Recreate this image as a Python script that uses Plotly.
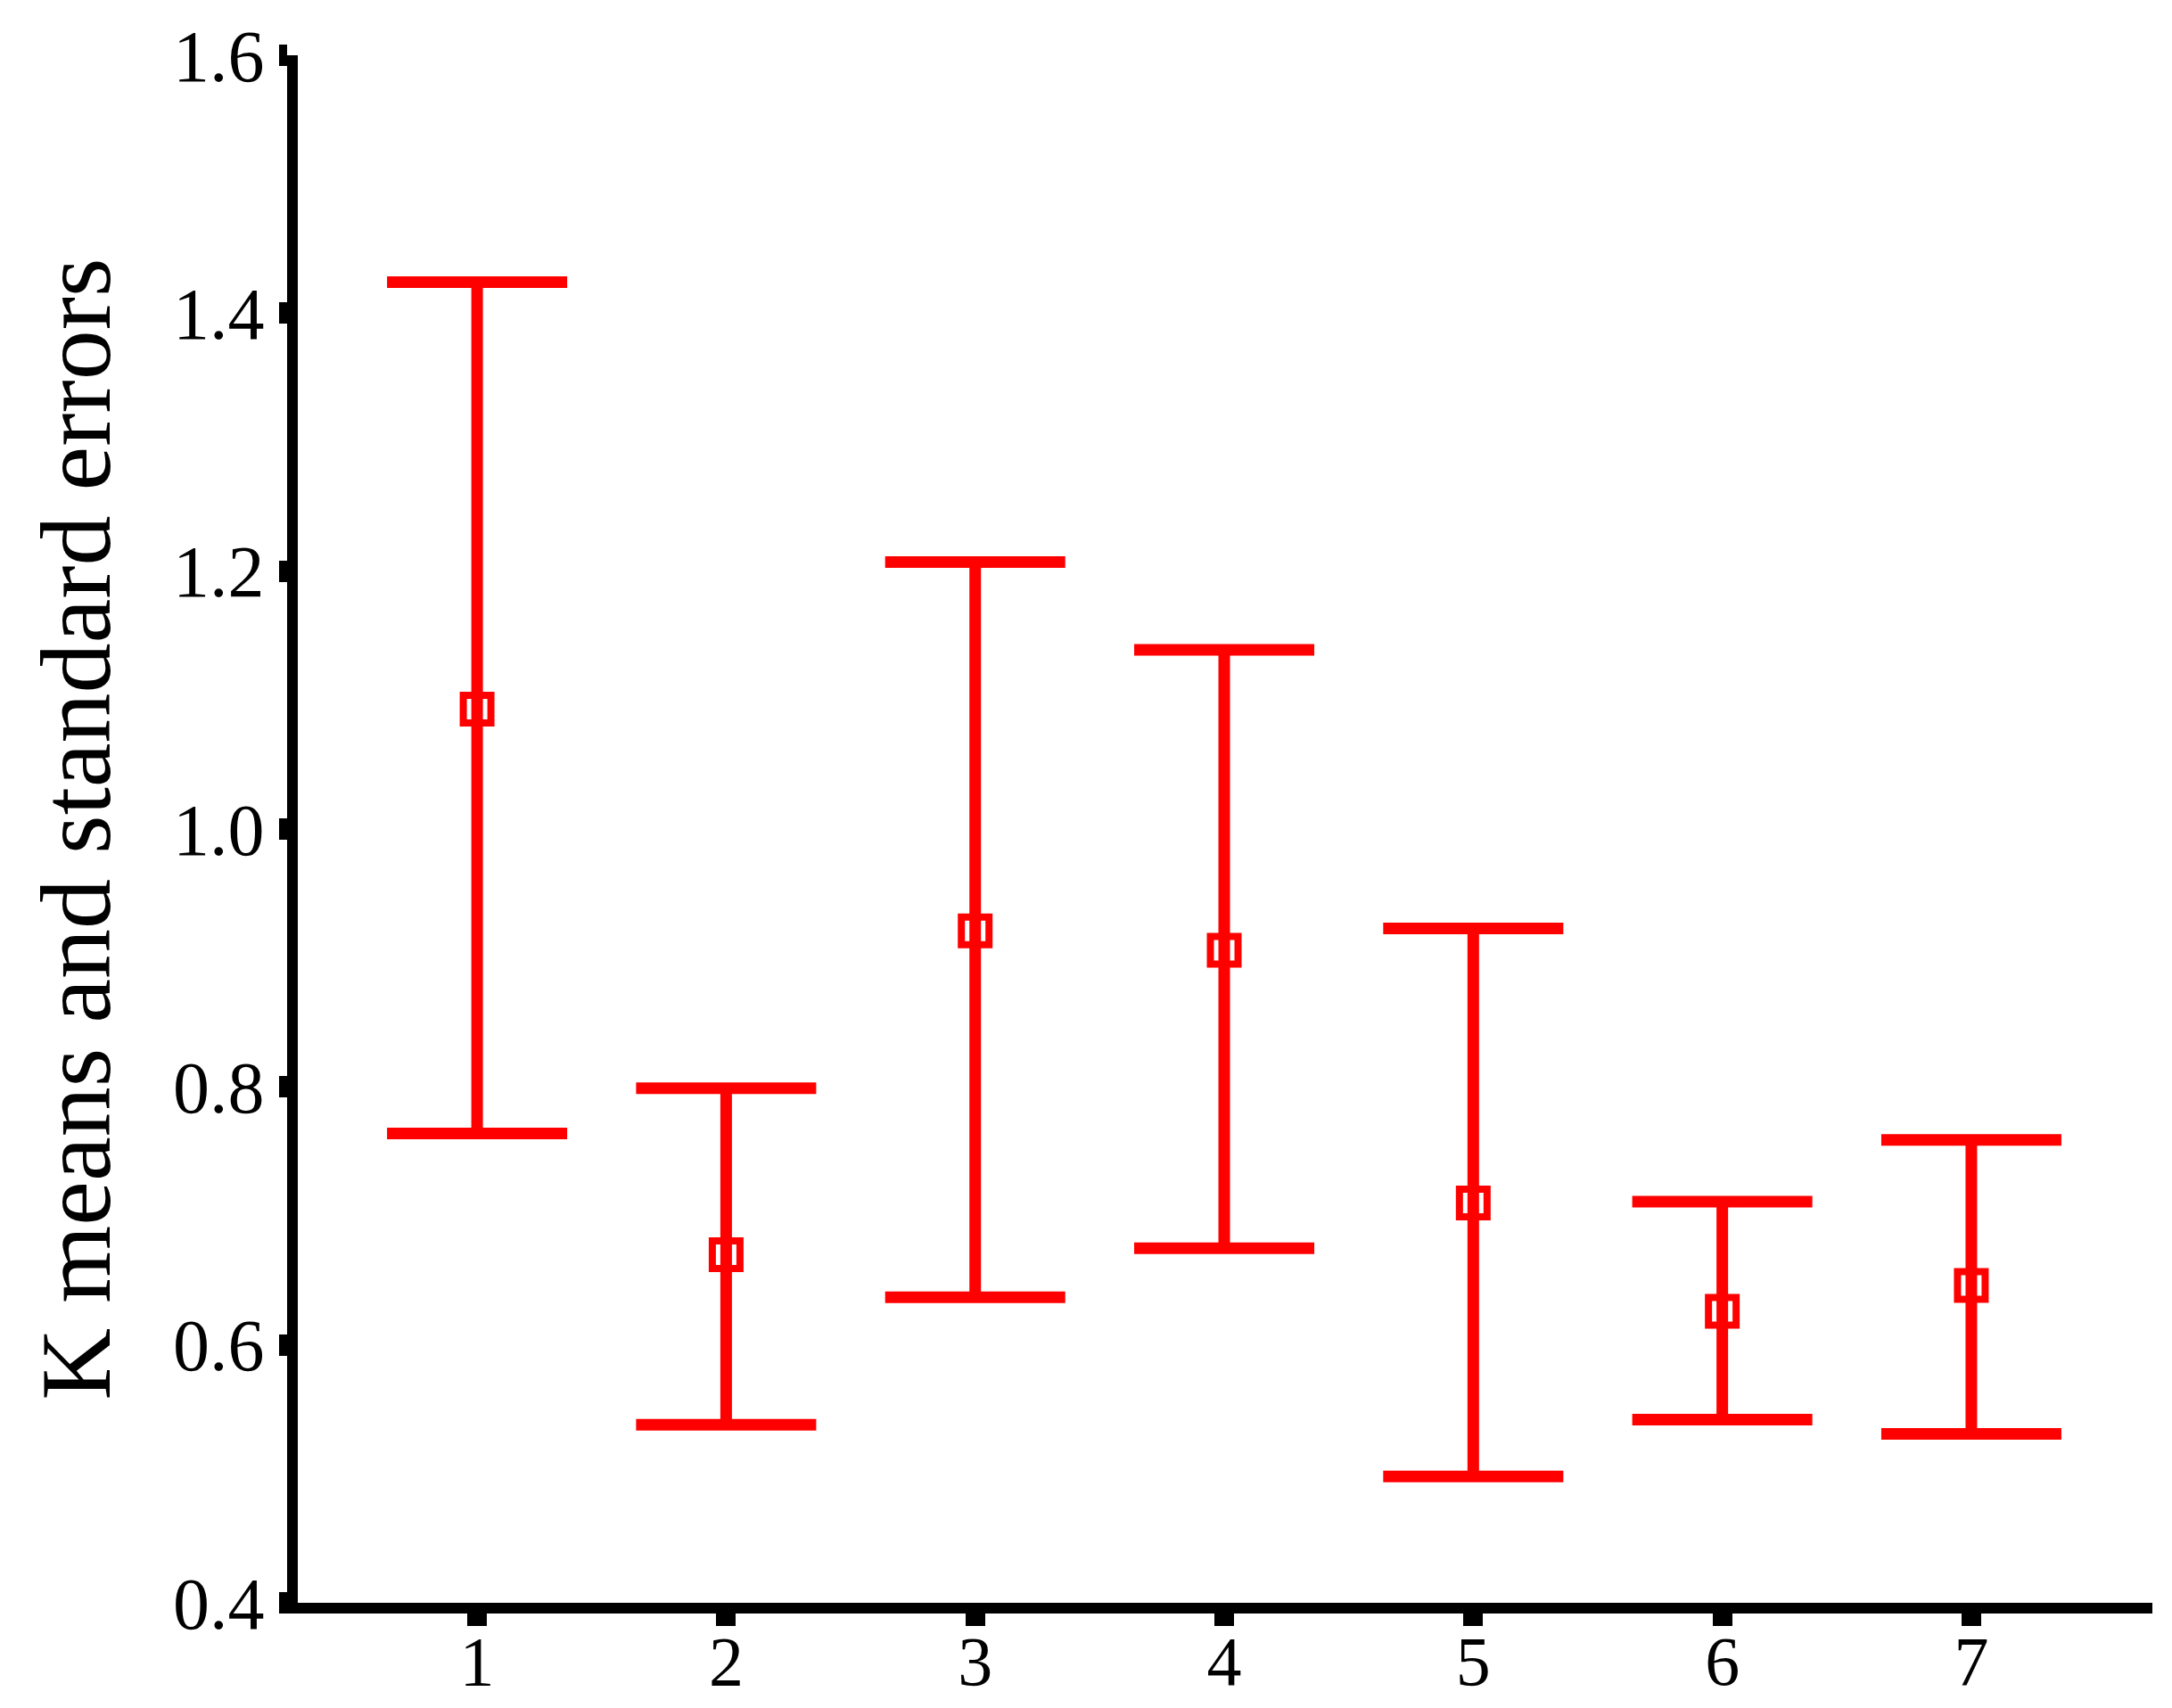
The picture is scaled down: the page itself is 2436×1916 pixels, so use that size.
import plotly.graph_objects as go

groups = [1, 2, 3, 4, 5, 6, 7]
means = [1.093, 0.670, 0.921, 0.906, 0.710, 0.626, 0.646]
upper = [1.424, 0.799, 1.207, 1.139, 0.923, 0.711, 0.759]
lower = [0.764, 0.538, 0.637, 0.675, 0.498, 0.542, 0.531]
y_ticks = [0.4, 0.6, 0.8, 1.0, 1.2, 1.4, 1.6]
y_tick_text = ["0.4", "0.6", "0.8", "1.0", "1.2", "1.4", "1.6"]

err_plus = [u - m for u, m in zip(upper, means)]
err_minus = [m - l for m, l in zip(means, lower)]

red = "#ff0000"
fig = go.Figure()
fig.add_trace(go.Scatter(
    x=groups, y=means, mode="markers",
    marker=dict(symbol="square-open", size=31, color=red, line=dict(width=8, color=red)),
    error_y=dict(type="data", symmetric=False, array=err_plus, arrayminus=err_minus,
                 color=red, thickness=13, width=101),
    showlegend=False,
))

font_family = "Liberation Serif, Times New Roman, serif"
fig.update_layout(
    width=2436, height=1916,
    margin=dict(l=326, r=30, t=54, b=126),
    paper_bgcolor="white", plot_bgcolor="white",
    font=dict(family=font_family, color="black"),
    xaxis=dict(
        range=[0.280, 7.727], tickmode="array", tickvals=groups,
        ticktext=[str(g) for g in groups],
        showgrid=False, zeroline=False, automargin=False,
        showline=True, linecolor="black", linewidth=12,
        ticks="outside", ticklen=14, tickwidth=22, tickcolor="black",
        ticklabelstandoff=-28,
        tickfont=dict(size=78, family=font_family, color="black"),
    ),
    yaxis=dict(
        range=[0.4, 1.6], tickmode="array", tickvals=y_ticks, ticktext=y_tick_text,
        showgrid=False, zeroline=False, automargin=False,
        showline=True, linecolor="black", linewidth=12,
        ticks="outside", ticklen=9, tickwidth=24, tickcolor="black",
        tickfont=dict(size=82, family=font_family, color="black"),
        title=dict(text="K means and standard errors",
                   font=dict(size=112, family=font_family, color="black"),
                   standoff=38),
    ),
)

fig.write_html("out.html")
